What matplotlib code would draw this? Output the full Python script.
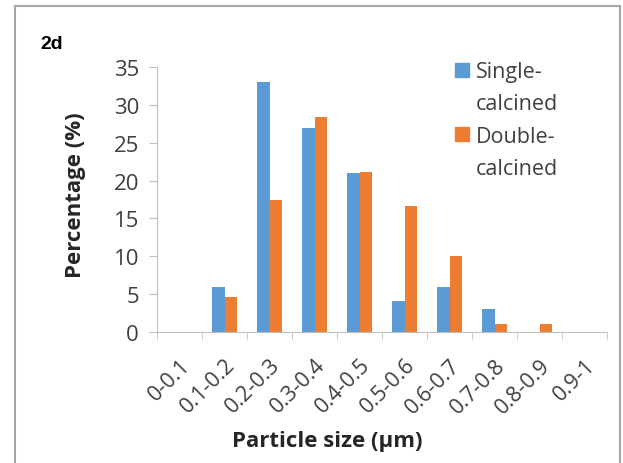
import numpy as np
import matplotlib.pyplot as plt
from matplotlib.patches import Rectangle

sizes = ['0-0.1', '0.1-0.2', '0.2-0.3', '0.3-0.4', '0.4-0.5',
         '0.5-0.6', '0.6-0.7', '0.7-0.8', '0.8-0.9', '0.9-1']
single = [0, 6, 33, 27, 21, 4.1, 6, 3.1, 0, 0]
double = [0, 4.6, 17.4, 28.4, 21.1, 16.6, 10.1, 1, 1, 0]
names = ['Single-\ncalcined', 'Double-\ncalcined']
colors = ['#5b9bd5', '#ed7d31']

plt.rcParams['font.family'] = ['Open Sans', 'DejaVu Sans']

W, H = 623, 464
fig = plt.figure(figsize=(W / 100, H / 100), dpi=100)
ax = fig.add_axes([157 / W, 1 - 333 / H, 450 / W, 265 / H])

x = np.arange(len(sizes))
w = 0.28
ax.bar(x - w/2, single, w, color=colors[0])
ax.bar(x + w/2, double, w, color=colors[1])

ax.set_xlim(-0.5, len(sizes) - 0.5)
ax.set_ylim(0, 35)
ax.set_yticks(range(0, 36, 5))
ax.set_xticks(x)
ax.set_xticklabels(sizes, rotation=45, ha='right', rotation_mode='anchor')
ax.set_xticks(np.arange(-0.5, len(sizes), 1), minor=True)
ax.tick_params(axis='x', which='major', length=0, pad=16, labelsize=15.5)
ax.tick_params(axis='x', which='minor', length=5, color='#bfbfbf')
ax.tick_params(axis='y', length=6, pad=7, color='#bfbfbf', labelsize=16)
ax.tick_params(labelcolor='#404040')

for s in ['top', 'right']:
    ax.spines[s].set_visible(False)
for s in ['left', 'bottom']:
    ax.spines[s].set_color('#bfbfbf')

fig.text(75 / W, 1 - 195 / H, 'Percentage (%)', fontsize=16, fontweight='bold',
         rotation=90, ha='center', va='center', color='#262626')
fig.text(327 / W, 1 - 441 / H, 'Particle size (µm)', fontsize=16, fontweight='bold',
         ha='center', va='center', color='#262626')

# legend drawn by hand so the swatch sits on the first line
for i, (name, c) in enumerate(zip(names, colors)):
    top = 64 + i * 64
    fig.patches.append(Rectangle((455 / W, 1 - (top + 14) / H), 14 / W, 14 / H,
                                 transform=fig.transFigure, color=c))
    for j, line in enumerate(name.split('\n')):
        fig.text(476 / W, 1 - (78 + i * 65 + j * 32) / H, line, fontsize=15.5,
                 color='#404040', va='baseline')

fig.text(40 / W, 1 - 49 / H, '2d', fontsize=14, fontweight='bold', va='baseline',
         family='Liberation Sans')
fig.patches.append(Rectangle((15 / W, -0.05), 605 / W, 1.05 - 7 / H,
                             transform=fig.transFigure, fill=False,
                             edgecolor='#a6a6a6', linewidth=1.5))

fig.savefig('out.png', dpi=100)
